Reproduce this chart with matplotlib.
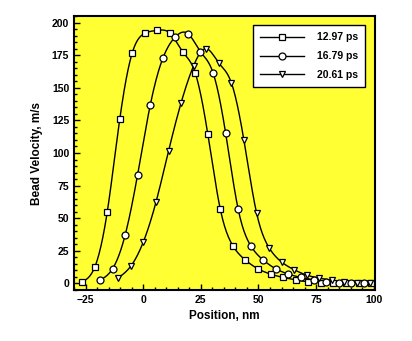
import numpy as np
import matplotlib
matplotlib.use("Agg")
import matplotlib.pyplot as plt
from matplotlib.ticker import MultipleLocator

plt.rcParams['font.family'] = ['Liberation Sans', 'DejaVu Sans']
plt.rcParams['font.weight'] = 'bold'

# Bead velocity profiles
pos_1297 = [-26.5, -21.05, -15.6, -10.15, -4.7, 0.75, 6.2, 11.65, 17.1, 22.55, 28.0, 33.45,
            38.9, 44.35, 49.8, 55.25, 60.7, 66.15, 71.6, 77.05, 82.5, 87.95, 93.4, 98.85]
vel_1297 = [1.2, 12.3, 54.6, 126.0, 177.0, 191.8, 194.0, 191.8, 177.7, 161.5, 114.8, 56.9,
            28.9, 17.9, 11.2, 7.2, 4.6, 2.8, 1.2, 0.6, 0.2, 0.0, 0.0, 0.0]

pos_1679 = [-18.75, -13.3, -7.85, -2.4, 3.05, 8.5, 13.95, 19.4, 24.85, 30.3, 35.75, 41.2,
            46.65, 52.1, 57.55, 63.0, 68.45, 73.9, 79.35, 84.8, 90.25, 95.7]
vel_1679 = [2.5, 11.2, 36.9, 83.5, 136.6, 172.5, 189.0, 191.5, 177.7, 161.5, 115.4, 56.9,
            28.9, 17.9, 11.2, 7.2, 4.6, 2.8, 1.2, 0.5, 0.2, 0.0]

pos_2061 = [-10.8, -5.35, 0.1, 5.55, 11.0, 16.45, 21.9, 27.35, 32.8, 38.25, 43.7, 49.15,
            54.6, 60.05, 65.5, 70.95, 76.4, 81.85, 87.3, 92.75, 98.2]
vel_2061 = [4.3, 13.3, 32.0, 62.3, 101.5, 138.5, 167.0, 180.0, 169.0, 153.8, 109.7, 54.3,
            27.4, 16.4, 10.5, 6.4, 4.1, 2.5, 1.2, 0.3, 0.0]

labels = ["12.97 ps", "16.79 ps", "20.61 ps"]
markers = ["s", "o", "v"]
msizes = [4.5, 5.0, 4.4]


def natural_spline(x, y, n=20):
    # smooth curve through the points (natural cubic spline)
    x = np.asarray(x, float)
    y = np.asarray(y, float)
    k = len(x)
    h = np.diff(x)
    A = np.zeros((k, k))
    b = np.zeros(k)
    A[0, 0] = A[-1, -1] = 1
    for i in range(1, k - 1):
        A[i, i - 1] = h[i - 1]
        A[i, i] = 2 * (h[i - 1] + h[i])
        A[i, i + 1] = h[i]
        b[i] = 6 * ((y[i + 1] - y[i]) / h[i] - (y[i] - y[i - 1]) / h[i - 1])
    m = np.linalg.solve(A, b)
    xs, ys = [], []
    for i in range(k - 1):
        t = np.linspace(x[i], x[i + 1], n, endpoint=(i == k - 2))
        a = x[i + 1] - t
        c = t - x[i]
        s = (m[i] * a ** 3 + m[i + 1] * c ** 3) / (6 * h[i]) \
            + (y[i] / h[i] - m[i] * h[i] / 6) * a \
            + (y[i + 1] / h[i] - m[i + 1] * h[i] / 6) * c
        xs.append(t)
        ys.append(s)
    return np.concatenate(xs), np.concatenate(ys)


fig = plt.figure(figsize=(4.12, 3.41), dpi=100)
ax = fig.add_axes([0.1796, 0.1496, 0.7304, 0.8034])
ax.set_facecolor("#ffff33")

series = [(pos_1297, vel_1297), (pos_1679, vel_1679), (pos_2061, vel_2061)]
for (xv, yv), lab, mk, ms in zip(series, labels, markers, msizes):
    sx, sy = natural_spline(xv, yv)
    ax.plot(sx, sy, color="black", lw=1.0, zorder=2)
    ax.plot(xv, yv, linestyle="none", marker=mk, ms=ms, mfc="white", mec="black",
            mew=0.9, zorder=3)
    ax.plot([], [], color="black", lw=1.0, marker=mk, ms=ms, mfc="white", mec="black",
            mew=0.9, label=lab)

ax.set_xlim(-30, 100.5)
ax.set_ylim(-5, 205)
ax.xaxis.set_major_locator(MultipleLocator(25))
ax.xaxis.set_minor_locator(MultipleLocator(5))
ax.yaxis.set_major_locator(MultipleLocator(25))
ax.yaxis.set_minor_locator(MultipleLocator(5))
ax.tick_params(which="both", direction="in", top=False, right=False, labelsize=7.5, width=1.0)
ax.tick_params(which="major", length=4)
ax.tick_params(which="minor", length=2)
for sp in ax.spines.values():
    sp.set_linewidth(1.5)

ax.set_xlabel("Position, nm", fontsize=8.5, fontweight="bold", labelpad=4)
ax.set_ylabel("Bead Velocity, m/s", fontsize=8.5, fontweight="bold", labelpad=6)

leg = ax.legend(loc="upper right", bbox_to_anchor=(0.967, 0.967), borderaxespad=0,
                fontsize=7.5, handlelength=4.2, fancybox=False, framealpha=1,
                edgecolor="black", borderpad=0.7, labelspacing=0.85, handletextpad=1.2)
leg.get_frame().set_linewidth(1.0)

fig.savefig("out.png", dpi=100)
